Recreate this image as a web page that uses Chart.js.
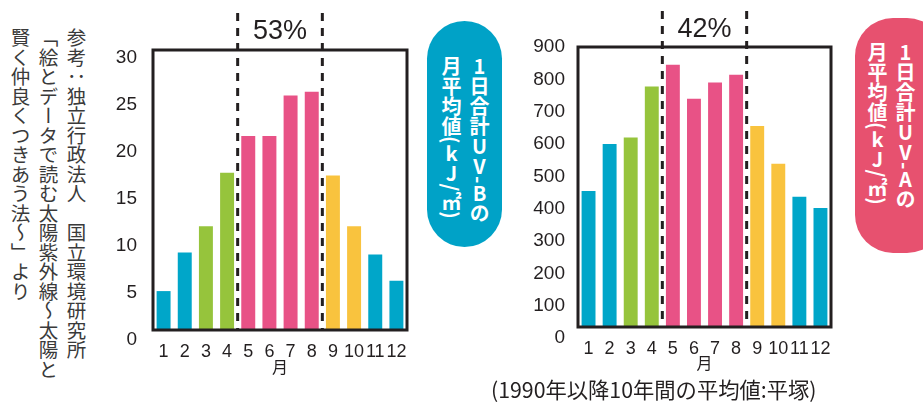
<!DOCTYPE html>
<html lang="ja">
<head>
<meta charset="utf-8">
<title>UV-B / UV-A 月平均値</title>
<script src="https://cdn.jsdelivr.net/npm/chart.js@4/dist/chart.umd.min.js"></script>
<style>
  html, body { margin: 0; padding: 0; background: #fff; }
  body { width: 923px; height: 405px; position: relative; overflow: hidden;
         font-family: "Noto Sans CJK JP", sans-serif; color: #333; }
  .box { position: absolute; }
  .credit { position: absolute; left: 6px; top: 28px; writing-mode: vertical-rl;
            font-size: 19.5px; line-height: 28px; color: #3a3a3a; white-space: pre; }
  .pill { position: absolute; border-radius: 38px; color: #fff; writing-mode: vertical-rl;
          font-size: 20px; line-height: 28px; font-weight: 700; white-space: pre;
          box-sizing: border-box; }
  .up { text-orientation: upright; }
  .caption { position: absolute; left: 491px; top: 373px; font-size: 21.3px; color: #231f20; white-space: pre; }
</style>
</head>
<body>

<div class="credit">参考：独立行政法人　国立環境研究所
「絵とデータで読む太陽紫外線～太陽と
賢く仲良くつきあう法～」より</div>

<div class="box" style="left:100px; top:0; width:320px; height:380px;"><canvas id="uvbChart"></canvas></div>
<div class="pill" style="left:427px; top:21px; width:75px; height:226px; background:#00a2c7; padding:35px 9px 0 0;"><span class="up">1日合計UV</span>-<span class="up">B</span>の
月平均値(<span class="up">kJ</span>/㎡)</div>

<div class="box" style="left:520px; top:0; width:320px; height:380px;"><canvas id="uvaChart"></canvas></div>
<div class="pill" style="left:855px; top:18px; width:90px; height:235px; background:#e7516f; padding:24px 26px 0 0;"><span class="up">1日合計UV</span>-<span class="up">A</span>の
月平均値(<span class="up">kJ</span>/㎡)</div>

<div class="caption">(1990年以降10年間の平均値:平塚)</div>

<script>
// 月
const months = ['1', '2', '3', '4', '5', '6', '7', '8', '9', '10', '11', '12'];
// 季節区分（色分け）
const seasons = ['winter', 'winter', 'spring', 'spring', 'summer', 'summer',
                 'summer', 'summer', 'autumn', 'autumn', 'winter', 'winter'];
// 1日合計UV-B 月平均値 (kJ/㎡)
const uvbValues = [5.2, 9.3, 12.1, 17.8, 21.7, 21.7, 26.0, 26.4, 17.5, 12.1, 9.1, 6.3];
// 1日合計UV-A 月平均値 (kJ/㎡)
const uvaValues = [455, 600, 620, 778, 845, 740, 790, 814, 656, 539, 437, 402];
// 目盛
const uvbTicks = [0, 5, 10, 15, 20, 25, 30];
const uvaTicks = [0, 100, 200, 300, 400, 500, 600, 700, 800, 900];
// 5〜8月の割合
const uvbSummerShare = '53%';
const uvaSummerShare = '42%';

const seasonColor = {
  winter: '#00a6c9',
  spring: '#96c43c',
  summer: '#e85286',
  autumn: '#f9c33e'
};
const ink = '#231f20';

// 枠・点線・割合ラベル
const framePlugin = {
  id: 'frame',
  afterDatasetsDraw(chart, args, opts) {
    const { ctx, chartArea: { left, top, right, bottom }, scales: { x } } = chart;
    ctx.save();
    ctx.strokeStyle = ink;
    ctx.lineWidth = 3;
    ctx.strokeRect(left, top, right - left, bottom - top);

    ctx.setLineDash([8, 7]);
    const xs = opts.splits.map(i => (x.getPixelForValue(i) + x.getPixelForValue(i + 1)) / 2);
    xs.forEach(px => {
      ctx.beginPath();
      ctx.moveTo(px, opts.dashTop);
      ctx.lineTo(px, bottom);
      ctx.stroke();
    });
    ctx.setLineDash([]);

    ctx.fillStyle = ink;
    ctx.font = '27px "Liberation Sans"';
    ctx.textAlign = 'center';
    ctx.textBaseline = 'middle';
    ctx.fillText(opts.label, (xs[0] + xs[1]) / 2, opts.labelY);
    ctx.restore();
  }
};

function makeChart(id, values, ticks, yMin, yMax, cfg) {
  return new Chart(document.getElementById(id), {
    type: 'bar',
    data: {
      labels: months,
      datasets: [{
        data: values,
        backgroundColor: seasons.map(s => seasonColor[s]),
        barPercentage: 0.66,
        categoryPercentage: 1.0
      }]
    },
    options: {
      responsive: true,
      maintainAspectRatio: false,
      animation: false,
      layout: { padding: { top: cfg.top, left: 0, right: cfg.right, bottom: 0 } },
      plugins: {
        legend: { display: false },
        tooltip: { enabled: false },
        frame: { splits: [3, 7], dashTop: cfg.dashTop, label: cfg.label, labelY: cfg.labelY }
      },
      scales: {
        x: {
          grid: { display: false },
          border: { display: false },
          ticks: { color: ink, font: { family: 'Liberation Sans', size: 18 }, padding: 3, maxRotation: 0, autoSkip: false },
          title: { display: true, text: '月', color: ink, font: { family: 'Noto Sans CJK JP', size: 16 }, padding: { top: 0, bottom: cfg.titlePad } },
          afterFit(scale) { scale.height = cfg.xHeight; }
        },
        y: {
          min: yMin,
          max: yMax,
          grid: { display: false },
          border: { display: false },
          afterBuildTicks(scale) { scale.ticks = ticks.map(v => ({ value: v })); },
          ticks: { color: ink, font: { family: 'Liberation Sans', size: 19 }, padding: cfg.yPad },
          afterFit(scale) { scale.width = cfg.yWidth; }
        }
      }
    },
    plugins: [framePlugin]
  });
}

makeChart('uvbChart', uvbValues, uvbTicks, 1.06, 30.85, {
  top: 50, right: 13, yWidth: 53, yPad: 8, xHeight: 50, titlePad: 3,
  dashTop: 13, label: uvbSummerShare, labelY: 32
});

makeChart('uvaChart', uvaValues, uvaTicks, 34, 900, {
  top: 47, right: 9, yWidth: 58, yPad: 5, xHeight: 53, titlePad: 7,
  dashTop: 11, label: uvaSummerShare, labelY: 30
});
</script>
</body>
</html>
